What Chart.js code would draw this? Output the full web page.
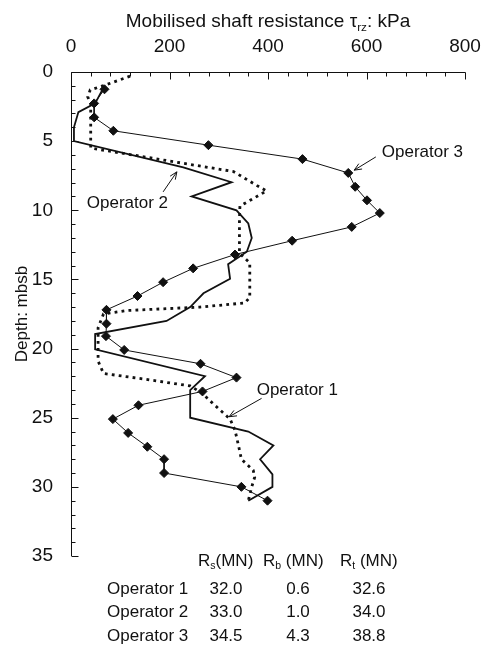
<!DOCTYPE html>
<html>
<head>
<meta charset="utf-8">
<script src="https://cdn.jsdelivr.net/npm/chart.js@4.4.1/dist/chart.umd.min.js"></script>
<style>
  html, body { margin: 0; padding: 0; background: #fff; }
</style>
</head>
<body>
<canvas id="c" width="481" height="647"></canvas>
<script>
// Operator 1 (dotted line)
const op1Kpa = [120, 69, 39, 34, 40, 40, 330, 377, 397, 343, 342, 342, 363, 363, 353, 262, 113, 66, 55, 55, 66, 147, 242, 265, 289, 323, 333, 340, 346, 370, 373, 367, 360];
const op1Depth = [0.3, 0.95, 1.3, 1.8, 2.3, 5.5, 7.2, 8.2, 8.6, 9.7, 10.7, 13.1, 13.8, 16.3, 16.7, 17.0, 17.25, 17.5, 18.5, 20.9, 21.8, 22.2, 22.7, 23.2, 24.0, 25.1, 25.9, 27.0, 28.0, 28.8, 29.3, 30.0, 31.0];

// Operator 2 (solid line)
const op2Kpa = [68, 49, 15, 6, 6, 228, 326, 245, 336, 360, 367, 357, 319, 323, 269, 242, 194, 49, 49, 272, 242, 242, 360, 411, 384, 409, 409, 360];
const op2Depth = [1.0, 2.27, 2.9, 4.0, 5.0, 6.9, 7.97, 9.0, 10.0, 10.95, 12.0, 13.0, 13.9, 14.95, 16.0, 17.0, 18.0, 18.95, 20.05, 22.0, 23.0, 25.0, 26.0, 27.0, 28.0, 29.1, 30.0, 31.0];

// Operator 3 (line with diamonds)
const op3Kpa = [68, 47, 47, 86, 279, 470, 563, 577, 601, 627, 570, 449, 333, 248, 187, 135, 72, 72, 71, 108, 263, 336, 267, 137, 85, 116, 155, 189, 189, 346, 399];
const op3Depth = [1.25, 2.27, 3.28, 4.25, 5.29, 6.3, 7.3, 8.3, 9.28, 10.2, 11.2, 12.2, 13.2, 14.2, 15.2, 16.2, 17.2, 18.2, 19.1, 20.1, 21.1, 22.1, 23.1, 24.1, 25.1, 26.1, 27.1, 28.0, 29.0, 30.0, 31.0];

// summary table
const operators = ['Operator 1', 'Operator 2', 'Operator 3'];
const rsMN = ['32.0', '33.0', '34.5'];
const rbMN = ['0.6', '1.0', '4.3'];
const rtMN = ['32.6', '34.0', '38.8'];

const toPts = (xs, ys) => xs.map((v, i) => ({x: v, y: ys[i]}));

// callout labels, in data units (kPa, depth)
const callouts = [
  {text: 'Operator 1', at: [377, 23.0], from: [387, 23.6], to: [321, 24.93]},
  {text: 'Operator 2', at: [32, 9.5], from: [187, 8.67], to: [215, 7.22]},
  {text: 'Operator 3', at: [631, 5.82], from: [619, 6.14], to: [575, 7.1]}
];

const FONT = '"Liberation Sans", Arial, sans-serif';
Chart.defaults.font.family = FONT;
Chart.defaults.color = '#111';

function drawRich(ctx, parts, x, y, size, align) {
  let w = 0;
  parts.forEach(p => {
    ctx.font = (p.sub ? size * 0.62 : size) + 'px ' + FONT;
    w += ctx.measureText(p.t).width;
  });
  let cx = align === 'center' ? x - w / 2 : x;
  parts.forEach(p => {
    ctx.font = (p.sub ? size * 0.62 : size) + 'px ' + FONT;
    ctx.fillText(p.t, cx, p.sub ? y + size * 0.28 : y);
    cx += ctx.measureText(p.t).width;
  });
}

function arrow(ctx, x1, y1, x2, y2) {
  const ang = Math.atan2(y2 - y1, x2 - x1);
  const L = 8, spread = 0.4;
  ctx.beginPath();
  ctx.moveTo(x1, y1); ctx.lineTo(x2, y2);
  ctx.moveTo(x2 - L * Math.cos(ang - spread), y2 - L * Math.sin(ang - spread));
  ctx.lineTo(x2, y2);
  ctx.lineTo(x2 - L * Math.cos(ang + spread), y2 - L * Math.sin(ang + spread));
  ctx.stroke();
}

const decor = {
  id: 'decor',
  afterDraw(chart) {
    const {ctx, chartArea: a, scales: {x, y}} = chart;
    ctx.save();
    ctx.strokeStyle = '#111';
    ctx.fillStyle = '#111';
    ctx.lineWidth = 1;

    // axis lines (top and left only)
    const top = Math.round(a.top) + 0.5, left = Math.round(a.left) + 0.5;
    ctx.beginPath();
    ctx.moveTo(left, Math.round(y.getPixelForValue(35)));
    ctx.lineTo(left, top);
    ctx.lineTo(Math.round(x.getPixelForValue(800)) + 0.5, top);
    ctx.stroke();

    // inward ticks
    ctx.beginPath();
    for (let v = 0; v <= 800; v += 40) {
      const px = Math.round(x.getPixelForValue(v)) + 0.5;
      const len = v % 200 === 0 ? 7 : 4;
      ctx.moveTo(px, top); ctx.lineTo(px, top + len);
    }
    for (let d = 0; d <= 35; d += 1) {
      const py = Math.round(y.getPixelForValue(d)) + 0.5;
      const len = d % 5 === 0 ? 7 : 4;
      ctx.moveTo(left, py); ctx.lineTo(left + len, py);
    }
    ctx.stroke();

    // x axis title
    ctx.textBaseline = 'middle';
    drawRich(ctx, [{t: 'Mobilised shaft resistance \u03c4'}, {t: 'rz', sub: true}, {t: ': kPa'}],
      (a.left + a.right) / 2, 22, 19, 'center');

    // callouts
    ctx.textAlign = 'left';
    ctx.font = '17px ' + FONT;
    callouts.forEach(c => {
      ctx.fillText(c.text, x.getPixelForValue(c.at[0]), y.getPixelForValue(c.at[1]));
      arrow(ctx, x.getPixelForValue(c.from[0]), y.getPixelForValue(c.from[1]),
        x.getPixelForValue(c.to[0]), y.getPixelForValue(c.to[1]));
    });

    // table
    const colX = [198, 263, 340];
    drawRich(ctx, [{t: 'R'}, {t: 's', sub: true}, {t: '(MN)'}], colX[0], 561, 17, 'left');
    drawRich(ctx, [{t: 'R'}, {t: 'b', sub: true}, {t: ' (MN)'}], colX[1], 561, 17, 'left');
    drawRich(ctx, [{t: 'R'}, {t: 't', sub: true}, {t: ' (MN)'}], colX[2], 561, 17, 'left');
    ctx.font = '17px ' + FONT;
    operators.forEach((op, i) => {
      const ry = 589 + i * 23.5;
      ctx.textAlign = 'left';
      ctx.fillText(op, 107, ry);
      ctx.textAlign = 'center';
      ctx.fillText(rsMN[i], 226, ry);
      ctx.fillText(rbMN[i], 298, ry);
      ctx.fillText(rtMN[i], 369, ry);
    });
    ctx.restore();
  }
};

new Chart(document.getElementById('c'), {
  type: 'scatter',
  data: {
    datasets: [
      {
        label: 'Operator 1',
        data: toPts(op1Kpa, op1Depth),
        showLine: true,
        borderColor: '#111',
        borderWidth: 2.8,
        borderDash: [2.8, 4.2],
        pointRadius: 0,
        tension: 0
      },
      {
        label: 'Operator 2',
        data: toPts(op2Kpa, op2Depth),
        showLine: true,
        borderColor: '#111',
        borderWidth: 1.8,
        pointRadius: 0,
        tension: 0
      },
      {
        label: 'Operator 3',
        data: toPts(op3Kpa, op3Depth),
        showLine: true,
        borderColor: '#111',
        borderWidth: 1,
        pointStyle: 'rectRot',
        pointRadius: 4.5,
        pointBackgroundColor: '#111',
        pointBorderColor: '#111',
        tension: 0
      }
    ]
  },
  options: {
    responsive: false,
    animation: false,
    layout: {padding: {left: 0, top: 0, right: 16, bottom: 91}},
    plugins: {legend: {display: false}, tooltip: {enabled: false}},
    scales: {
      x: {
        type: 'linear',
        position: 'top',
        min: 0, max: 800,
        grid: {display: false},
        border: {display: false},
        ticks: {stepSize: 200, padding: 6, font: {size: 19}, color: '#111', maxRotation: 0},
        afterFit(s) { s.height = 72; s.paddingLeft = 0; s.paddingRight = 0; }
      },
      y: {
        type: 'linear',
        reverse: true,
        min: 0, max: 35,
        grid: {display: false},
        border: {display: false},
        ticks: {stepSize: 5, padding: 10, font: {size: 19}, color: '#111'},
        title: {display: true, text: 'Depth: mbsb', font: {size: 17}, color: '#111', padding: {top: 12, bottom: 0}},
        afterFit(s) { s.width = 71; s.paddingTop = 0; s.paddingBottom = 0; }
      }
    }
  },
  plugins: [decor]
});
</script>
</body>
</html>
